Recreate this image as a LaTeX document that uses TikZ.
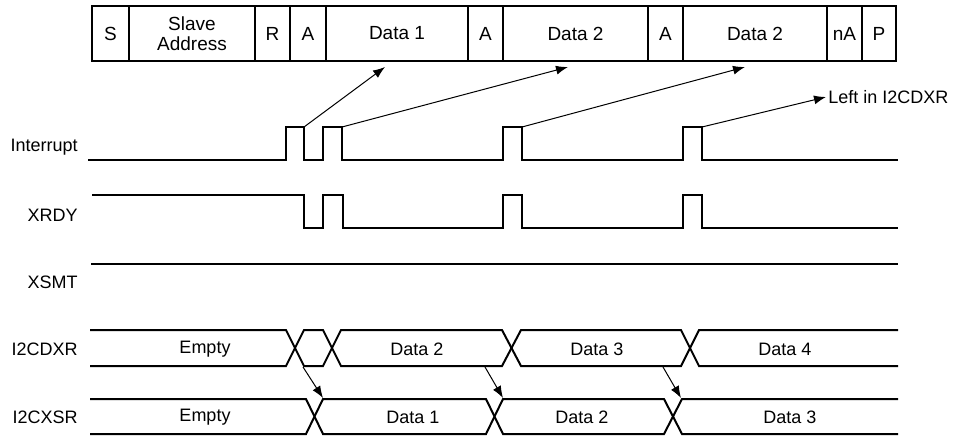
\documentclass[tikz,border=0pt]{standalone}
\usepackage{fontspec}
\setmainfont{Liberation Sans}
\usetikzlibrary{arrows.meta}
\begin{document}
\begin{tikzpicture}[
			x=0.5pt, y=-0.5pt,
			every node/.style={font=\fontsize{9}{10}\selectfont, inner sep=1pt},
			field/.style={draw, line width=1pt, minimum height=27.5pt, anchor=north west, align=center, font=\fontsize{9.5}{10}\selectfont},
			signame/.style={anchor=east},
			sig/.style={line width=1pt},
			ptr/.style={line width=0.5pt, -{Latex[length=6pt, width=4.5pt]}}
		]
		\useasboundingbox (0,0) rectangle (955,436);
		% frame on the bus
		\foreach \a/\b/\txt [count=\i] in {91/128/S, 128/254/{Slave\\Address}, 254/289/R, 289/325/A, 325/467/Data 1, 467/502/A, 502/647/Data 2, 647/682/A, 682/826/Data 2, 826/861/nA, 861/895/P}
			\node[field, minimum width=(\b-\a)*0.5pt] (f\i) at (\a,5) {\txt};

		% signal names
		\node[signame] (nint) at (80,147) {Interrupt};
		\node[signame] (nxrdy) at (80,215) {XRDY};
		\node[signame] (nxsmt) at (80,282) {XSMT};
		\node[signame] (ndxr) at (80,349) {I2CDXR};
		\node[signame] (nxsr) at (80,417) {I2CXSR};

		% waveforms
		\draw[sig] (88,160) -- (286,160) -- (286,127) -- (304,127) -- (304,160) -- (323,160) -- (323,127) -- (342,127) -- (342,160)
			-- (503,160) -- (503,127) -- (522,127) -- (522,160) -- (683,160) -- (683,127) -- (702,127) -- (702,160) -- (898,160);
		\draw[sig] (92,195) -- (304,195) -- (304,228) -- (323,228) -- (323,195) -- (343,195) -- (343,228)
			-- (503,228) -- (503,195) -- (522,195) -- (522,228) -- (683,228) -- (683,195) -- (702,195) -- (702,228) -- (898,228);
		\draw[sig] (91,264) -- (898,264);
		\draw[sig] (90,330) -- (286,330) -- (304,366) -- (323,366) -- (341,330) -- (502,330) -- (521,366) -- (681,366) -- (699,330) -- (898,330);
		\draw[sig] (90,366) -- (286,366) -- (304,330) -- (323,330) -- (341,366) -- (502,366) -- (521,330) -- (681,330) -- (699,366) -- (898,366);
		\draw[sig] (90,399) -- (306,399) -- (323,434) -- (486,434) -- (503,399) -- (664,399) -- (682,434) -- (898,434);
		\draw[sig] (90,434) -- (306,434) -- (323,399) -- (486,399) -- (503,434) -- (664,434) -- (682,399) -- (898,399);

		% register contents
		\node (dxr0) at (205,349) {Empty};
		\node (dxr2) at (417,349) {Data 2};
		\node (dxr3) at (597,349) {Data 3};
		\node (dxr4) at (785,349) {Data 4};
		\node (xsr0) at (205,417) {Empty};
		\node (xsr1) at (413,417) {Data 1};
		\node (xsr2) at (582,417) {Data 2};
		\node (xsr3) at (790,417) {Data 3};

		% interrupt pointers
		\coordinate (p1) at (304,127);
		\coordinate (p2) at (342,127);
		\coordinate (p3) at (522,127);
		\coordinate (p4) at (702,127);
		\coordinate (t1) at (385,67);
		\coordinate (t2) at (568,67);
		\coordinate (t3) at (745,67);
		\node[anchor=west] (left) at (826,97) {Left in I2CDXR};
		\draw[ptr] (p1) -- (t1);
		\draw[ptr] (p2) -- (t2);
		\draw[ptr] (p3) -- (t3);
		\draw[ptr] (p4) -- (left.west);

		% copy into shift register
		\foreach \s/\e [count=\i] in {303/323, 485/503, 663/681} {
			\coordinate (c\i) at (\s,367);
			\coordinate (d\i) at (\e,398);
			\draw[ptr] (c\i) -- (d\i);
		}
	\end{tikzpicture}
\end{document}
